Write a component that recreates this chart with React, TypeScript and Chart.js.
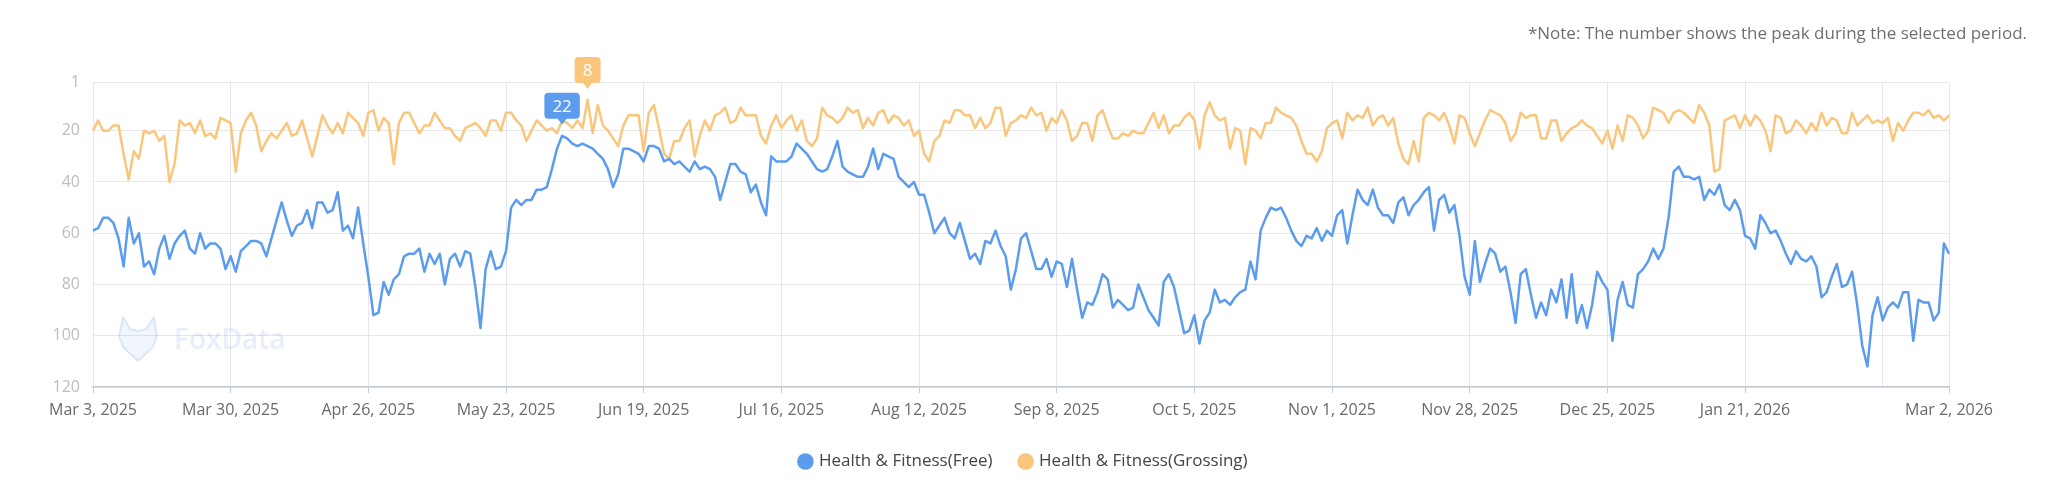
import React, { useEffect, useRef } from 'react';
import { Chart, registerables } from 'chart.js';

Chart.register(...registerables);

// ---- Data ----
const START_DATE_UTC = Date.UTC(2025, 2, 3); // Mar 3, 2025
const DAY_COUNT = 365;
const MONTHS = ['Jan', 'Feb', 'Mar', 'Apr', 'May', 'Jun', 'Jul', 'Aug', 'Sep', 'Oct', 'Nov', 'Dec'];

const dayLabels: string[] = Array.from({ length: DAY_COUNT }, (_, i) => {
  const d = new Date(START_DATE_UTC + i * 86400000);
  return `${MONTHS[d.getUTCMonth()]} ${d.getUTCDate()}, ${d.getUTCFullYear()}`;
});

const xTickIndex = [0, 27, 54, 81, 108, 135, 162, 189, 216, 243, 270, 297, 324, 351, 364];
const xHiddenTickIndex = [351];
const yTickValues = [1, 20, 40, 60, 80, 100, 120];

const freeRanks = [
  59, 58, 54, 54, 56, 62, 73, 54, 64, 60,
  73, 71, 76, 66, 61, 70, 64, 61, 59, 66,
  68, 60, 66, 64, 64, 66, 74, 69, 75, 67,
  65, 63, 63, 64, 69, 62, 55, 48, 55, 61,
  57, 56, 51, 58, 48, 48, 52, 51, 44, 59,
  57, 62, 50, 64, 77, 92, 91, 79, 84, 78,
  76, 69, 68, 68, 66, 75, 68, 72, 68, 80,
  70, 68, 73, 67, 68, 81, 97, 74, 67, 74,
  73, 67, 50, 47, 49, 47, 47, 43, 43, 42,
  35, 27, 22, 23, 25, 26, 25, 26, 27, 29,
  31, 35, 42, 37, 27, 27, 28, 29, 32, 26,
  26, 27, 32, 31, 33, 32, 34, 36, 32, 35,
  34, 35, 38, 47, 40, 33, 33, 36, 37, 44,
  41, 48, 53, 30, 32, 32, 32, 30, 25, 27,
  29, 32, 35, 36, 35, 30, 24, 34, 36, 37,
  38, 38, 34, 27, 35, 29, 30, 31, 38, 40,
  42, 40, 45, 45, 52, 60, 57, 54, 60, 62,
  56, 63, 70, 68, 72, 63, 64, 59, 65, 69,
  82, 74, 62, 60, 67, 74, 74, 70, 77, 71,
  72, 81, 70, 82, 93, 87, 88, 83, 76, 78,
  89, 86, 88, 90, 89, 80, 85, 90, 93, 96,
  79, 76, 81, 90, 99, 98, 92, 103, 94, 91,
  82, 87, 86, 88, 85, 83, 82, 71, 78, 59,
  54, 50, 51, 50, 54, 59, 63, 65, 61, 62,
  58, 63, 59, 61, 53, 51, 64, 53, 43, 47,
  49, 43, 50, 53, 53, 56, 48, 46, 53, 49,
  47, 44, 42, 59, 47, 45, 52, 49, 61, 77,
  84, 63, 79, 72, 66, 68, 75, 73, 83, 95,
  76, 74, 84, 93, 87, 92, 82, 87, 78, 93,
  76, 95, 88, 97, 88, 75, 79, 82, 102, 86,
  79, 88, 89, 76, 74, 71, 66, 70, 66, 54,
  36, 34, 38, 38, 39, 38, 47, 43, 45, 41,
  49, 51, 47, 51, 61, 62, 66, 53, 56, 60,
  59, 63, 68, 72, 67, 70, 71, 69, 73, 85,
  83, 77, 72, 81, 80, 75, 88, 104, 112, 92,
  85, 94, 89, 87, 89, 83, 83, 102, 86, 87,
  87, 94, 91, 64, 68,
];

const grossingRanks = [
  20, 16, 20, 20, 18, 18, 29, 39, 28, 31,
  20, 21, 20, 24, 22, 40, 33, 16, 18, 17,
  21, 16, 22, 21, 23, 15, 16, 17, 36, 21,
  16, 13, 18, 28, 24, 21, 23, 20, 17, 22,
  21, 16, 23, 30, 22, 14, 18, 21, 17, 21,
  13, 15, 17, 22, 13, 12, 20, 15, 17, 33,
  17, 13, 13, 17, 21, 18, 18, 13, 16, 19,
  19, 22, 24, 19, 18, 17, 19, 22, 16, 16,
  20, 13, 13, 16, 18, 24, 20, 16, 18, 20,
  19, 21, 16, 17, 19, 16, 19, 8, 21, 10,
  18, 20, 23, 26, 18, 14, 14, 14, 28, 13,
  10, 19, 29, 31, 24, 24, 19, 16, 30, 22,
  16, 20, 14, 13, 11, 17, 16, 11, 14, 14,
  14, 22, 25, 18, 14, 19, 16, 14, 20, 16,
  24, 26, 23, 11, 14, 15, 17, 15, 11, 13,
  12, 19, 15, 18, 13, 12, 17, 14, 15, 18,
  16, 22, 20, 29, 32, 24, 22, 16, 17, 12,
  12, 14, 14, 19, 15, 19, 17, 11, 11, 22,
  17, 16, 14, 15, 11, 14, 13, 20, 15, 17,
  12, 16, 24, 22, 17, 17, 24, 14, 12, 18,
  23, 23, 21, 22, 20, 21, 21, 17, 13, 19,
  14, 21, 18, 18, 15, 13, 16, 27, 14, 9,
  14, 16, 15, 27, 19, 20, 33, 19, 20, 23,
  17, 17, 11, 13, 14, 15, 18, 24, 29, 29,
  32, 28, 19, 17, 16, 23, 13, 16, 14, 15,
  11, 18, 15, 14, 18, 15, 25, 31, 33, 24,
  32, 15, 13, 14, 16, 13, 18, 25, 14, 15,
  21, 26, 21, 16, 12, 13, 14, 17, 24, 21,
  13, 15, 14, 14, 23, 23, 16, 16, 24, 21,
  19, 18, 16, 18, 19, 22, 25, 20, 27, 18,
  24, 14, 15, 18, 23, 20, 11, 12, 13, 17,
  13, 12, 13, 15, 17, 10, 13, 18, 36, 35,
  16, 15, 14, 19, 14, 18, 14, 16, 20, 28,
  14, 15, 21, 20, 16, 18, 21, 17, 20, 13,
  18, 15, 16, 21, 21, 13, 18, 16, 14, 17,
  16, 17, 15, 24, 17, 20, 16, 13, 13, 14,
  12, 15, 14, 16, 14,
];

const seriesNames = ['Health & Fitness(Free)', 'Health & Fitness(Grossing)'];
const seriesColors = ['#5b9cee', '#f9c67c'];
const noteText = '*Note: The number shows the peak during the selected period.';
const FONT = '"Open Sans", "Noto Sans", sans-serif';

// ---- Plugins ----
const notePlugin = {
  id: 'noteText',
  afterDraw(chart: any) {
    const ctx = chart.ctx;
    ctx.save();
    ctx.font = `17px ${FONT}`;
    ctx.fillStyle = '#6f6f6f';
    ctx.textAlign = 'right';
    ctx.textBaseline = 'middle';
    ctx.fillText(noteText, 2027, 34);
    ctx.restore();
  },
};

const watermarkPlugin = {
  id: 'watermark',
  beforeDatasetsDraw(chart: any) {
    const ctx = chart.ctx;
    ctx.save();
    ctx.beginPath();
    ctx.moveTo(123, 317);
    ctx.lineTo(130, 329);
    ctx.lineTo(138, 331);
    ctx.lineTo(146, 329);
    ctx.lineTo(154, 317);
    ctx.lineTo(157, 336);
    ctx.lineTo(153, 347);
    ctx.lineTo(138, 361);
    ctx.lineTo(123, 347);
    ctx.lineTo(119, 336);
    ctx.closePath();
    ctx.fillStyle = 'rgba(120,160,235,0.10)';
    ctx.fill();
    ctx.strokeStyle = 'rgba(120,160,235,0.22)';
    ctx.lineWidth = 2;
    ctx.lineJoin = 'round';
    ctx.stroke();
    ctx.font = `600 28px ${FONT}`;
    ctx.fillStyle = 'rgba(110,155,235,0.17)';
    ctx.textAlign = 'left';
    ctx.textBaseline = 'middle';
    ctx.fillText('FoxData', 174, 341);
    ctx.restore();
  },
};

const peakLabelPlugin = {
  id: 'peakLabels',
  afterDatasetsDraw(chart: any) {
    const ctx = chart.ctx;
    chart.data.datasets.forEach((ds: any, di: number) => {
      const meta = chart.getDatasetMeta(di);
      const vals = ds.data as number[];
      let best = 0;
      vals.forEach((v, i) => {
        if (v < vals[best]) best = i;
      });
      const pt = meta.data[best];
      if (!pt) return;
      const text = String(vals[best]);
      ctx.save();
      ctx.font = `17px ${FONT}`;
      const tw = ctx.measureText(text).width;
      const w = Math.max(tw + 16, 26);
      const h = 26;
      const tipY = pt.y - 11;
      const boxBottom = tipY - 6;
      const boxTop = boxBottom - h;
      const left = pt.x - w / 2;
      ctx.fillStyle = ds.borderColor;
      ctx.beginPath();
      ctx.roundRect(left, boxTop, w, h, 4);
      ctx.fill();
      ctx.beginPath();
      ctx.moveTo(pt.x - 5, boxBottom - 1);
      ctx.lineTo(pt.x, tipY);
      ctx.lineTo(pt.x + 5, boxBottom - 1);
      ctx.closePath();
      ctx.fill();
      ctx.fillStyle = '#ffffff';
      ctx.textAlign = 'center';
      ctx.textBaseline = 'middle';
      ctx.fillText(text, pt.x, boxTop + h / 2 + 1);
      ctx.restore();
    });
  },
};

export default function App() {
  const canvasRef = useRef<HTMLCanvasElement | null>(null);

  useEffect(() => {
    if (!canvasRef.current) return;
    const chart = new Chart(canvasRef.current, {
      type: 'line',
      data: {
        labels: dayLabels,
        datasets: [
          {
            label: seriesNames[0],
            data: freeRanks,
            borderColor: seriesColors[0],
            backgroundColor: seriesColors[0],
            borderWidth: 2.5,
            pointRadius: 0,
            tension: 0,
            fill: false,
            borderJoinStyle: 'round',
          },
          {
            label: seriesNames[1],
            data: grossingRanks,
            borderColor: seriesColors[1],
            backgroundColor: seriesColors[1],
            borderWidth: 2.5,
            pointRadius: 0,
            tension: 0,
            fill: false,
            borderJoinStyle: 'round',
          },
        ],
      },
      options: {
        responsive: false,
        devicePixelRatio: 1,
        animation: false,
        events: [],
        layout: { padding: { top: 82, left: 0, right: 0, bottom: 4 } },
        plugins: {
          tooltip: { enabled: false },
          title: { display: false },
          legend: {
            display: true,
            position: 'bottom',
            labels: {
              usePointStyle: true,
              pointStyle: 'circle',
              boxWidth: 10,
              boxHeight: 10,
              padding: 28,
              color: '#444444',
              font: { family: FONT, size: 17 },
            },
          },
        },
        scales: {
          x: {
            type: 'category',
            offset: false,
            afterBuildTicks: (scale: any) => {
              scale.ticks = xTickIndex.map((v) => ({ value: v }));
            },
            afterFit: (scale: any) => {
              scale.height = 38;
            },
            ticks: {
              autoSkip: false,
              maxRotation: 0,
              minRotation: 0,
              padding: 8,
              color: '#6a6a6a',
              font: { family: FONT, size: 16 },
              callback: (value: any) =>
                xHiddenTickIndex.includes(Number(value)) ? '' : dayLabels[Number(value)],
            },
            grid: {
              color: '#e3e6eb',
              lineWidth: 1,
              drawTicks: true,
              tickLength: 6,
              tickColor: (ctx: any) =>
                ctx.tick && xHiddenTickIndex.includes(ctx.tick.value) ? 'rgba(0,0,0,0)' : '#c3cad4',
            },
            border: { display: true, color: '#c3cad4', width: 1.5 },
          },
          y: {
            type: 'linear',
            reverse: true,
            min: 1,
            max: 120,
            afterBuildTicks: (scale: any) => {
              scale.ticks = yTickValues.map((v) => ({ value: v }));
            },
            afterFit: (scale: any) => {
              scale.width = 93;
            },
            ticks: {
              padding: 13,
              color: '#bdbdbd',
              font: { family: FONT, size: 16 },
            },
            grid: { color: '#e7e7e7', lineWidth: 1, drawTicks: false },
            border: { display: false },
          },
          yRight: {
            type: 'linear',
            position: 'right',
            display: true,
            min: 0,
            max: 1,
            afterFit: (scale: any) => {
              scale.width = 99;
            },
            ticks: { display: false },
            grid: { display: false, drawTicks: false },
            border: { display: false },
          },
        },
      } as any,
      plugins: [watermarkPlugin, peakLabelPlugin, notePlugin],
    });
    return () => chart.destroy();
  }, []);

  return (
    <div style={{ position: 'fixed', left: 0, top: 0, width: 2048, height: 484, background: '#ffffff' }}>
      <canvas ref={canvasRef} width={2048} height={484} style={{ display: 'block', width: 2048, height: 484 }} />
    </div>
  );
}
